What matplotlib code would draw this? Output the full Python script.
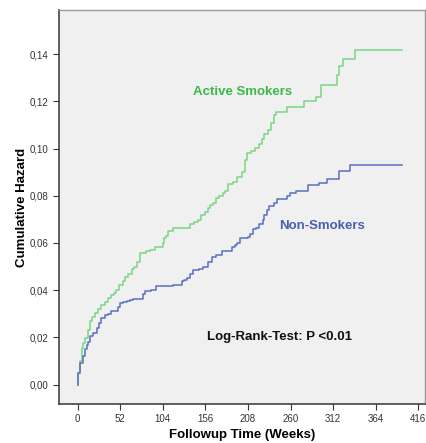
import matplotlib.pyplot as plt

# step breakpoints (weeks, cumulative hazard)
smk_weeks = [0, 1, 3, 5, 7, 9, 12, 15, 17, 21, 25, 29, 33, 37, 41, 44, 47, 51, 55, 58,
             62, 66, 69, 72, 76, 84, 88, 94, 104, 105, 108, 110, 116, 137, 142, 147, 151,
             155, 159, 162, 165, 169, 173, 177, 180, 183, 190, 194, 201, 204, 207, 212,
             216, 222, 225, 228, 232, 236, 240, 242, 255, 276, 291, 297, 317, 319, 324,
             339, 396]
smk_haz = [0.0, 0.005, 0.010, 0.0156, 0.0175, 0.0199, 0.023, 0.027, 0.0285, 0.0304,
           0.032, 0.0338, 0.035, 0.0368, 0.038, 0.039, 0.040, 0.042, 0.044, 0.0458,
           0.047, 0.049, 0.050, 0.052, 0.0558, 0.0565, 0.057, 0.0585, 0.060, 0.062,
           0.063, 0.065, 0.0663, 0.068, 0.069, 0.0698, 0.072, 0.073, 0.075, 0.076,
           0.077, 0.079, 0.080, 0.081, 0.082, 0.085, 0.086, 0.088, 0.090, 0.095, 0.098,
           0.099, 0.1002, 0.102, 0.104, 0.106, 0.108, 0.111, 0.114, 0.1154, 0.1177,
           0.120, 0.122, 0.1268, 0.131, 0.135, 0.138, 0.1418, 0.1418]

non_weeks = [0, 1, 3, 6, 9, 11, 13, 15, 19, 23, 26, 29, 33, 37, 41, 49, 52, 55, 60,
             64, 68, 80, 82, 90, 96, 116, 127, 130, 133, 137, 141, 148, 153, 159, 164,
             169, 176, 188, 192, 194, 198, 208, 211, 214, 218, 222, 226, 228, 231, 233,
             240, 243, 255, 259, 267, 281, 295, 305, 319, 332, 396]
non_haz = [0.0, 0.005, 0.009, 0.012, 0.015, 0.0169, 0.018, 0.0204, 0.022, 0.024, 0.026,
           0.0283, 0.0295, 0.030, 0.0313, 0.033, 0.0347, 0.035, 0.0355, 0.036, 0.0364,
           0.0385, 0.0397, 0.040, 0.0416, 0.0423, 0.044, 0.0445, 0.045, 0.047, 0.0486,
           0.049, 0.050, 0.052, 0.054, 0.055, 0.0567, 0.0585, 0.059, 0.060, 0.062,
           0.0625, 0.064, 0.066, 0.0665, 0.068, 0.0698, 0.072, 0.074, 0.0757, 0.077,
           0.0785, 0.080, 0.081, 0.0822, 0.0844, 0.0855, 0.0871, 0.0906, 0.093, 0.093]

x_ticks = [0, 52, 104, 156, 208, 260, 312, 364, 416]
y_ticks = [0.0, 0.02, 0.04, 0.06, 0.08, 0.10, 0.12, 0.14]
y_labels = ["0,00", "0,02", "0,04", "0,06", "0,08", "0,10", "0,12", "0,14"]

plt.rcParams["font.family"] = ["Liberation Sans", "DejaVu Sans"]

fig = plt.figure(figsize=(4.26, 4.43), dpi=100)
ax = fig.add_axes([0.1385, 0.088, 0.859, 0.889])
ax.set_facecolor("#f0f0f0")

ax.plot(smk_weeks, smk_haz, drawstyle="steps-post", color="#78d585", lw=1.1)
ax.plot(non_weeks, non_haz, drawstyle="steps-post", color="#5a6ec0", lw=1.1)

ax.text(201, 0.124, "Active Smokers", color="#3cb84a", fontsize=9.5,
        fontweight="bold", ha="center", va="center")
ax.text(298, 0.0674, "Non-Smokers", color="#4a5db3", fontsize=9.5,
        fontweight="bold", ha="center", va="center")
ax.text(247, 0.0202, "Log-Rank-Test: P <0.01", color="#111111", fontsize=9.5,
        fontweight="bold", ha="center", va="center")

ax.set_xlim(-22.8, 424)
ax.set_ylim(-0.0082, 0.1586)
ax.set_xticks(x_ticks)
ax.set_yticks(y_ticks)
ax.set_yticklabels(y_labels)
ax.tick_params(labelsize=7, colors="#333333", length=4, width=0.8)

for side in ["left", "bottom"]:
    ax.spines[side].set_color("#444444")
    ax.spines[side].set_linewidth(1.2)
for side in ["top", "right"]:
    ax.spines[side].set_color("#999999")
    ax.spines[side].set_linewidth(1.0)

ax.set_xlabel("Followup Time (Weeks)", fontsize=9.5, fontweight="bold", labelpad=3)
ax.set_ylabel("Cumulative Hazard", fontsize=9.5, fontweight="bold", labelpad=1)

fig.savefig("out.png", dpi=100, facecolor="white")
